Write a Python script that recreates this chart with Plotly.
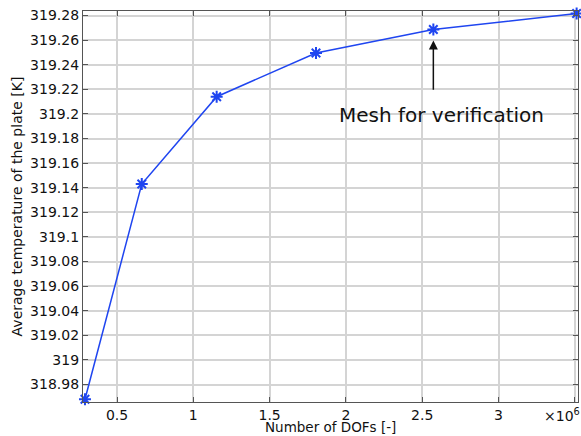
import plotly.graph_objects as go

# Mesh convergence study: degrees of freedom vs. average plate temperature
dofs = [0.290e6, 0.662e6, 1.153e6, 1.804e6, 2.573e6, 3.512e6]
avg_temp = [318.968, 319.143, 319.214, 319.2496, 319.2686, 319.2816]

x_tickvals = [0.5e6, 1.0e6, 1.5e6, 2.0e6, 2.5e6, 3.0e6]
x_ticktext = ["0.5", "1", "1.5", "2", "2.5", "3"]
x_extra_grid = [3.5e6]
y_tickvals = [318.98, 319.0, 319.02, 319.04, 319.06, 319.08, 319.1, 319.12,
              319.14, 319.16, 319.18, 319.2, 319.22, 319.24, 319.26, 319.28]
y_ticktext = ["318.98", "319", "319.02", "319.04", "319.06", "319.08", "319.1",
              "319.12", "319.14", "319.16", "319.18", "319.2", "319.22",
              "319.24", "319.26", "319.28"]

verification_idx = 4

line_color = "#1f45f0"
font_family = "DejaVu Sans"
grid_color = "#d4d4d4"
frame_color = "#555555"

W, H = 581, 436
M_L, M_R, M_T, M_B = 83, 3, 11, 34
plot_h = H - M_T - M_B

fig = go.Figure()
fig.add_trace(go.Scatter(
    x=dofs, y=avg_temp,
    mode="lines+markers",
    line=dict(color=line_color, width=1.5),
    marker=dict(symbol="asterisk-open", size=10,
                line=dict(color=line_color, width=2)),
    cliponaxis=False,
    showlegend=False,
))

axis_common = dict(
    showgrid=True, gridcolor=grid_color, gridwidth=1.5,
    showline=True, linecolor=frame_color, linewidth=1.2, mirror="allticks",
    ticks="inside", ticklen=5, tickcolor=frame_color, tickwidth=1,
    zeroline=False,
    tickfont=dict(family=font_family, size=14, color="#111111"),
)

fig.update_xaxes(
    range=[0.277e6, 3.521e6],
    tickmode="array", tickvals=x_tickvals, ticktext=x_ticktext,
    minor=dict(tickmode="array", tickvals=x_extra_grid, showgrid=True,
               gridcolor=grid_color, gridwidth=1.5,
               ticks="inside", ticklen=5, tickcolor=frame_color),
    **axis_common,
)
fig.update_yaxes(
    range=[318.9658, 319.2837],
    tickmode="array", tickvals=y_tickvals, ticktext=y_ticktext,
    title=dict(text="Average temperature of the plate [K]", standoff=4,
               font=dict(family=font_family, size=14, color="#111111")),
    **axis_common,
)

# x-axis title, sitting on the bottom edge of the figure
fig.add_annotation(
    x=0.5, y=-M_B / plot_h, xref="paper", yref="paper",
    text="Number of DOFs [-]", showarrow=False,
    xanchor="center", yanchor="bottom", borderpad=0,
    font=dict(family=font_family, size=13.5, color="#111111"),
)

# Arrow and label marking the mesh chosen for verification
fig.add_annotation(
    x=dofs[verification_idx], y=avg_temp[verification_idx],
    ax=dofs[verification_idx], ay=319.2185,
    xref="x", yref="y", axref="x", ayref="y",
    text="", showarrow=True, arrowhead=2, arrowsize=1.2, arrowwidth=1.5,
    arrowcolor="#111111", standoff=11,
)
fig.add_annotation(
    x=2.625e6, y=319.199, xref="x", yref="y",
    text="Mesh for verification", showarrow=False,
    font=dict(family=font_family, size=20, color="#111111"),
    xanchor="center", yanchor="middle",
)
# Axis multiplier label
fig.add_annotation(
    x=1, y=0, xref="paper", yref="paper",
    text="×10<sup>6</sup>", showarrow=False,
    xanchor="right", yanchor="top", xshift=4, yshift=-2,
    font=dict(family=font_family, size=14, color="#111111"),
)

fig.update_layout(
    width=W, height=H,
    margin=dict(l=M_L, r=M_R, t=M_T, b=M_B),
    plot_bgcolor="white", paper_bgcolor="white",
    font=dict(family=font_family),
)

fig.write_html("out.html")
